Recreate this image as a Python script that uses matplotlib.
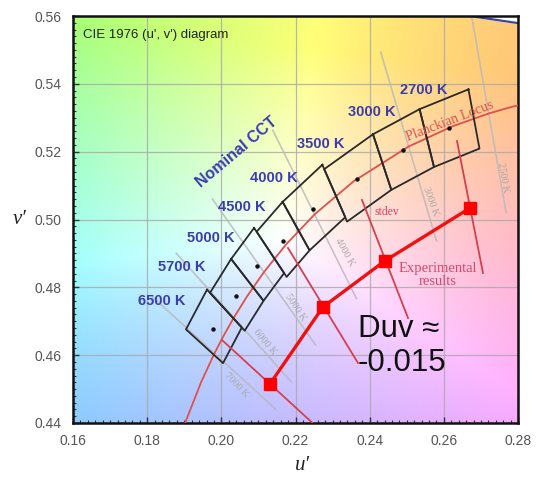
import numpy as np
import matplotlib
matplotlib.use("Agg")
import matplotlib.pyplot as plt
from matplotlib.ticker import MultipleLocator, FormatStrFormatter

# ---------------- data ----------------
# Planckian locus (u', v') from 10000 K down to 2300 K
planck_T = [10000, 8000, 7000, 6500, 6000, 5500, 5000, 4500, 4000, 3500, 3000, 2700, 2500, 2400, 2300]
planck_u = [0.19025, 0.19461, 0.19815, 0.20050, 0.20337, 0.20696, 0.21150, 0.21738,
            0.22515, 0.23571, 0.25051, 0.26242, 0.27210, 0.27757, 0.28354]
planck_v = [0.44006, 0.45220, 0.46054, 0.46549, 0.47107, 0.47738, 0.48451, 0.49255,
            0.50151, 0.51130, 0.52152, 0.52752, 0.53125, 0.53299, 0.53462]

# Nominal CCT quadrangles: corner u' and v' lists (top, left, bottom, right)
quad_names = ["2700 K", "3000 K", "3500 K", "4000 K", "4500 K", "5000 K", "5700 K", "6500 K"]
quad_u = [[0.26664, 0.25346, 0.25735, 0.26961],
          [0.25346, 0.24090, 0.24584, 0.25735],
          [0.24090, 0.22773, 0.23392, 0.24584],
          [0.22724, 0.21653, 0.22380, 0.23343],
          [0.21653, 0.20952, 0.21761, 0.22380],
          [0.20883, 0.20264, 0.21138, 0.21693],
          [0.20264, 0.19696, 0.20630, 0.21138],
          [0.19614, 0.19046, 0.20046, 0.20552]]
quad_v = [[0.53837, 0.53253, 0.51548, 0.52091],
          [0.53253, 0.52513, 0.50873, 0.51548],
          [0.52513, 0.51483, 0.49938, 0.50873],
          [0.51614, 0.50519, 0.49091, 0.50069],
          [0.50519, 0.49640, 0.48307, 0.49091],
          [0.49751, 0.48836, 0.47603, 0.48420],
          [0.48836, 0.47840, 0.46720, 0.47603],
          [0.47931, 0.46761, 0.45765, 0.46816]]
center_u = [0.26139, 0.24901, 0.23660, 0.22483, 0.21664, 0.20973, 0.20407, 0.19785]
center_v = [0.52685, 0.52050, 0.51197, 0.50308, 0.49378, 0.48640, 0.47731, 0.46783]

# Nominal CCT label positions
label_u = [0.25465, 0.24063, 0.22688, 0.21420, 0.20557, 0.19721, 0.18939, 0.18400]
label_v = [0.53818, 0.53170, 0.52226, 0.51224, 0.50369, 0.49455, 0.48600, 0.47597]

# Isotemperature lines (grey): end points
iso_names = ["2500 K", "3000 K", "4000 K", "5000 K", "6000 K", "7000 K"]
iso_u1 = [0.26741, 0.24300, 0.21388, 0.19757, 0.18786, 0.18150]
iso_v1 = [0.56042, 0.54933, 0.52630, 0.50604, 0.49002, 0.47715]
iso_u2 = [0.27679, 0.25802, 0.23642, 0.22543, 0.21888, 0.21480]
iso_v2 = [0.50208, 0.49371, 0.47672, 0.46298, 0.45212, 0.44392]
iso_lab_u = [0.2760, 0.2563, 0.2333, 0.2201, 0.2118, 0.2040]
iso_lab_v = [0.5122, 0.5052, 0.4904, 0.4742, 0.4639, 0.4512]
iso_lab_rot = [-80, -70, -61, -57, -50, -46]

# Experimental results and stdev bars
exp_u = [0.2131, 0.2274, 0.2441, 0.2671]
exp_v = [0.4515, 0.4742, 0.4878, 0.5034]
sd_u_hi = [0.20018, 0.21798, 0.23793, 0.26355]
sd_v_hi = [0.46447, 0.49160, 0.50575, 0.52314]
sd_u_lo = [0.22607, 0.23685, 0.25034, 0.27056]
sd_v_lo = [0.43853, 0.45769, 0.47096, 0.48423]

# Spectral locus piece in the top-right corner
spec_u = [0.2671, 0.2800]
spec_v = [0.5600, 0.5579]

xticks = [0.16, 0.18, 0.20, 0.22, 0.24, 0.26, 0.28]
yticks = [0.44, 0.46, 0.48, 0.50, 0.52, 0.54, 0.56]

# ---------------- figure ----------------
fig = plt.figure(figsize=(5.36, 4.79), dpi=100)
ax = fig.add_axes([73/536, 1-423/479, 445/536, 407/479])

# chromaticity background
n = 300
uu, vv = np.meshgrid(np.linspace(0.16, 0.28, n), np.linspace(0.44, 0.56, n))
d = 6*uu - 16*vv + 12
x = 9*uu/d
y = 4*vv/d
X = x/y
Y = np.ones_like(X)
Z = (1-x-y)/y
M = np.array([[3.2406, -1.5372, -0.4986],
              [-0.9689, 1.8758, 0.0415],
              [0.0557, -0.2040, 1.0570]])
rgb = np.einsum('ij,jkl->kli', M, np.array([X, Y, Z]))
u0, v0 = 0.218, 0.494
d0 = 6*u0 - 16*v0 + 12
x0, y0 = 9*u0/d0, 4*v0/d0
w = M @ np.array([x0/y0, 1.0, (1-x0-y0)/y0])
rgb = rgb / w
rgb = np.clip(rgb, 0, None)
rgb = rgb / rgb.max(axis=2, keepdims=True)
s = 0.78
rgb = 1 - s*(1 - rgb)
rgb = np.clip(rgb, 0, 1) ** (1/2.0)
ax.imshow(rgb, extent=[0.16, 0.28, 0.44, 0.56], origin='lower', aspect='auto', zorder=0,
          interpolation='bilinear')

# outside-gamut corner
ax.fill_between(spec_u, spec_v, [0.56, 0.56], color='white', zorder=1)
ax.plot(spec_u, spec_v, color='#3a46a8', lw=1.6, zorder=2)

ax.set_xlim(0.16, 0.28)
ax.set_ylim(0.44, 0.56)
ax.set_xticks(xticks)
ax.set_yticks(yticks)
ax.xaxis.set_major_formatter(FormatStrFormatter('%.2f'))
ax.yaxis.set_major_formatter(FormatStrFormatter('%.2f'))
ax.xaxis.set_minor_locator(MultipleLocator(0.002))
ax.yaxis.set_minor_locator(MultipleLocator(0.002))
ax.grid(True, which='major', color='#a8a8a8', lw=0.9, alpha=0.8)
ax.set_axisbelow('line')
ax.tick_params(which='major', direction='in', length=4, width=1, color='#333333',
               labelsize=10, labelcolor='#555555', pad=8)
ax.tick_params(which='minor', direction='in', length=2.5, width=0.8, color='#333333')
for lab in ax.get_xticklabels() + ax.get_yticklabels():
    lab.set_family('Liberation Sans')
for sp in ax.spines.values():
    sp.set_linewidth(1.8)
    sp.set_color('#111111')

# grey isotemperature lines
for i in range(len(iso_names)):
    ax.plot([iso_u1[i], iso_u2[i]], [iso_v1[i], iso_v2[i]], color='#b8b8b8', lw=1.2,
            alpha=0.8, zorder=2)
    ax.text(iso_lab_u[i], iso_lab_v[i], iso_names[i], rotation=iso_lab_rot[i],
            ha='center', va='center', fontsize=7.5, color='#a8a8a8',
            family='Liberation Serif', rotation_mode='anchor', zorder=2)

# Planckian locus
ax.plot(planck_u, planck_v, color='#e0504a', lw=1.3, zorder=3)

# quadrangles
for i in range(len(quad_names)):
    qu = quad_u[i] + [quad_u[i][0]]
    qv = quad_v[i] + [quad_v[i][0]]
    ax.plot(qu, qv, color='#2a2a2a', lw=1.3, zorder=4)
ax.plot(center_u, center_v, 'o', color='#111111', ms=2.2, zorder=5, ls='none')

for i in range(len(quad_names)):
    ax.text(label_u[i], label_v[i], quad_names[i], ha='center', va='center',
            fontsize=10.5, color='#3c3cae', fontweight='bold', family='Liberation Sans',
            zorder=6)
ax.text(0.2042, 0.5199, "Nominal CCT", rotation=40, ha='center', va='center',
        fontsize=11.5, color='#3c3cae', fontweight='bold', family='Liberation Sans',
        rotation_mode='anchor', zorder=6)

# stdev bars
for i in range(len(exp_u)):
    ax.plot([sd_u_hi[i], sd_u_lo[i]], [sd_v_hi[i], sd_v_lo[i]], color='#d6404e', lw=1.3,
            zorder=6)
# experimental results
ax.plot(exp_u, exp_v, color='#f01010', lw=2.4, marker='s', ms=9, mfc='#ff0000',
        mec='#ff0000', zorder=7)

ax.text(0.2617, 0.5289, "Planckian Locus", rotation=21, ha='center', va='center',
        fontsize=10, color='#e0504a', family='Liberation Serif', rotation_mode='anchor',
        zorder=6)
ax.text(0.24467, 0.5022, "stdev", ha='center', va='center', fontsize=8.5,
        color='#e04060', family='Liberation Serif', zorder=6)
ax.text(0.25843, 0.48364, "Experimental\nresults", ha='center', va='center', fontsize=10.5,
        color='#d84868', family='Liberation Serif', linespacing=1.0, zorder=6)
ax.text(0.23685, 0.4627, "Duv \u2248\n-0.015", ha='left', va='center', fontsize=22.5,
        color='#111111', family='Liberation Sans', zorder=8)
ax.text(0.1627, 0.5544, "CIE 1976 (u', v') diagram", ha='left', va='center',
        fontsize=9.5, color='#222222', family='Liberation Sans', zorder=6)

fig.text(20/536, 1-220/479, "v\u2032", ha='center', va='center', fontsize=15,
         family='Liberation Serif', style='italic', color='#222222')
fig.text(303/536, 1-466/479, "u\u2032", ha='center', va='center', fontsize=15,
         family='Liberation Serif', style='italic', color='#222222')

fig.savefig("out.png", dpi=100)
